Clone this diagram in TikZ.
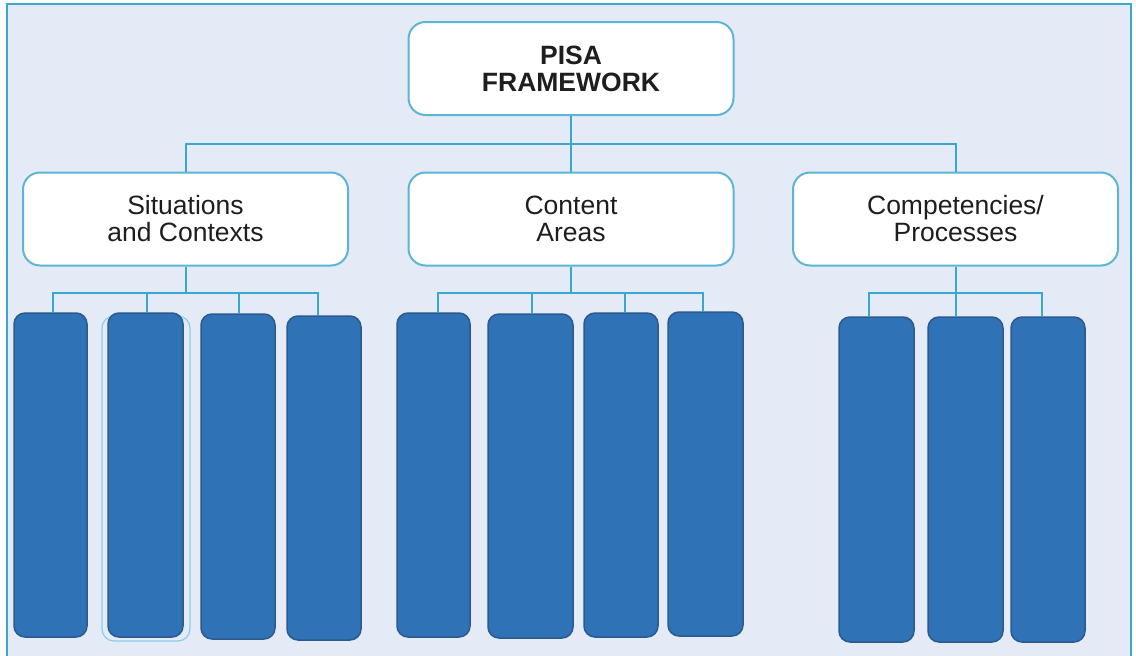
\documentclass[tikz,border=0pt]{standalone}
\usepackage{fontspec}
\setmainfont{Liberation Sans}
\definecolor{bg}{HTML}{E4EBF7}
\definecolor{linec}{HTML}{3AA7CF}
\definecolor{boxline}{HTML}{5DB5D6}
\definecolor{barfill}{HTML}{2F72B5}
\definecolor{bardk}{HTML}{2B5A8E}
\definecolor{txt}{HTML}{1E1E1E}
\definecolor{ltline}{HTML}{8ACDE6}
\begin{document}
\begin{tikzpicture}[x=1pt,y=-1pt,
  lbox/.style={draw=boxline, line width=2pt, fill=white, rounded corners=17pt,
    minimum width=325pt, minimum height=93pt, inner sep=0pt, align=center,
    text=txt, font=\fontsize{26.5}{27}\selectfont},
  bar/.style={draw=bardk, line width=1.5pt, fill=barfill, rounded corners=11pt, inner sep=0pt},
  link/.style={draw=linec, line width=2pt}]
\useasboundingbox (0,0) rectangle (1136,656);
\fill[white] (0,0) rectangle (1136,656);
\draw[fill=bg, draw=linec, line width=2pt] (7,4) rectangle (1131,662);

% top level
\node[lbox] (top) at (571,68.5) {\textbf{PISA}\\\textbf{FRAMEWORK}};
\node[lbox] (sit) at (185.5,219) {Situations\\and Contexts};
\node[lbox] (con) at (571,219) {Content\\Areas};
\node[lbox] (comp) at (955.5,219) {Competencies/\\Processes};

% faint outline behind second bar
\draw[draw=ltline, line width=1.2pt, rounded corners=12pt] (102,316) rectangle (190,641);

% bars
\node[bar, minimum width=73pt, minimum height=324pt] (b1) at (50.5,475) {};
\node[bar, minimum width=75pt, minimum height=324pt] (b2) at (145.5,475) {};
\node[bar, minimum width=74pt, minimum height=325pt] (b3) at (238,476.5) {};
\node[bar, minimum width=74pt, minimum height=324pt] (b4) at (324,478) {};
\node[bar, minimum width=73pt, minimum height=324pt] (b5) at (433.5,475) {};
\node[bar, minimum width=85pt, minimum height=324pt] (b6) at (530.5,476) {};
\node[bar, minimum width=74pt, minimum height=324pt] (b7) at (621,475) {};
\node[bar, minimum width=75pt, minimum height=324pt] (b8) at (705.5,474) {};
\node[bar, minimum width=75pt, minimum height=325pt] (b9) at (876.5,479.5) {};
\node[bar, minimum width=75pt, minimum height=325pt] (b10) at (965.5,479.5) {};
\node[bar, minimum width=74pt, minimum height=325pt] (b11) at (1048,479.5) {};

% upper connectors
\coordinate (tbus) at (571,144);
\draw[link] (top.south) -- (tbus);
\draw[link] (sit.north) |- (tbus);
\draw[link] (con.north) -- (tbus);
\draw[link] (comp.north) |- (tbus);

% lower connectors
\coordinate (sbus) at (185.5,293);
\coordinate (cbus) at (571,293);
\coordinate (pbus) at (955.5,293);
\draw[link] (sit.south) -- (sbus);
\draw[link] (con.south) -- (cbus);
\draw[link] (comp.south) -- (pbus);
\draw[link] ([xshift=2.5pt]b1.north) |- (sbus);
\draw[link] ([xshift=1.5pt]b2.north) |- (sbus);
\draw[link] ([xshift=1pt]b3.north) |- (sbus);
\draw[link] ([xshift=-6pt]b4.north) |- (sbus);
\draw[link] ([xshift=4.5pt]b5.north) |- (cbus);
\draw[link] ([xshift=1.5pt]b6.north) |- (cbus);
\draw[link] ([xshift=4pt]b7.north) |- (cbus);
\draw[link] ([xshift=-2.5pt]b8.north) |- (cbus);
\draw[link] ([xshift=-7.5pt]b9.north) |- (pbus);
\draw[link] ([xshift=-9.5pt]b10.north) |- (pbus);
\draw[link] ([xshift=-6pt]b11.north) |- (pbus);
\end{tikzpicture}
\end{document}
